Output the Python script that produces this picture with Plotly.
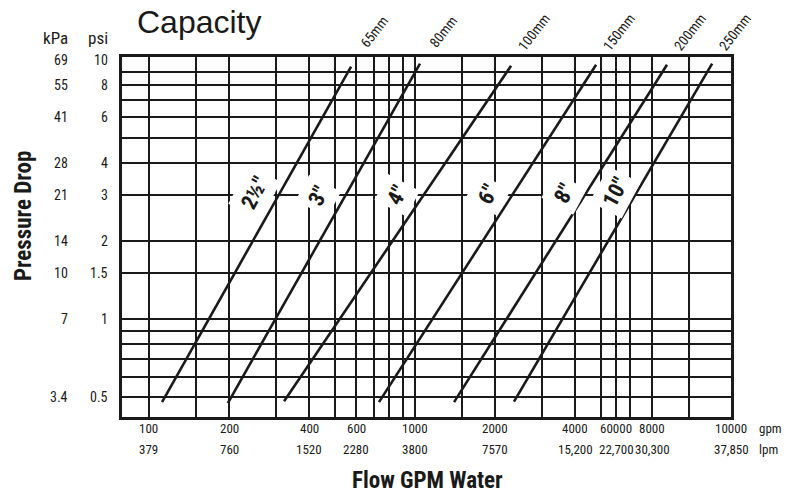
import math
import plotly.graph_objects as go

# ---------------- data ----------------
sizes_in = ['2½"', '3"', '4"', '6"', '8"', '10"']
sizes_mm = ["65mm", "80mm", "100mm", "150mm", "200mm", "250mm"]
# flow (gpm) at the low and high end of each line
flow_low = [112, 198, 322, 732, 1402, 2355]
flow_high = [575, 1044, 2296, 4792, 8851, 13080]
# pressure drop (psi) at the low and high end of each line
psi_low = [0.478, 0.474, 0.482, 0.478, 0.478, 0.48]
psi_high = [9.4, 9.65, 9.47, 9.56, 9.56, 9.65]
# where the size labels sit beside each line
label_flow = [250, 431, 855, 1879, 3631, 5650]
label_psi = [3.07, 2.98, 3.0, 3.02, 3.05, 3.07]

x_grid = [100, 150, 200, 300, 400, 500, 600, 700, 800, 900, 1000, 1500,
          2000, 3000, 4000, 5000, 5700, 6400, 7800, 10700]
y_grid = [0.5, 0.6, 0.7, 0.8, 0.9, 1, 1.5, 2, 3, 4, 5, 6, 7, 8, 9]

gpm_tick_vals = [100, 200, 400, 600, 1000, 2000, 4000, 5700, 7800, 15400]
gpm_tick_text = ["100", "200", "400", "600", "1000", "2000", "4000", "60000", "8000", "10000"]
lpm_tick_text = ["379", "760", "1520", "2280", "3800", "7570", "15,200", "22,700", "30,300", "37,850"]

psi_ticks = [10, 8, 6, 4, 3, 2, 1.5, 1, 0.5]
kpa_ticks = ["69", "55", "41", "28", "21", "14", "10", "7", "3.4"]

X_RANGE = [79.2, 15400]
Y_RANGE = [0.419, 10.24]

COND = "Roboto Condensed, Roboto, sans-serif"
REG = "Liberation Sans, Arial, Helvetica, sans-serif"
INK = "#1a1a1a"

fig = go.Figure()
for i in range(len(sizes_in)):
    fig.add_trace(go.Scatter(
        x=[flow_low[i], flow_high[i]], y=[psi_low[i], psi_high[i]],
        mode="lines", line=dict(color=INK, width=2.6),
        showlegend=False, hoverinfo="skip"))

ann = []
for i in range(len(sizes_in)):
    ann.append(dict(x=math.log10(label_flow[i]), y=math.log10(label_psi[i]),
                    xref="x", yref="y", xanchor="center", yanchor="middle",
                    text="<b>%s</b>" % sizes_in[i],
                    showarrow=False, textangle=-62,
                    font=dict(family=COND, size=22, color=INK),
                    bgcolor="white", borderpad=5))
    ann.append(dict(x=math.log10(flow_high[i]), y=1, xref="x", yref="paper",
                    xanchor="center", yanchor="middle",
                    xshift=23, yshift=25, text=sizes_mm[i], showarrow=False,
                    textangle=-52, font=dict(family=COND, size=14, color=INK)))

for v, t, l in zip(gpm_tick_vals, gpm_tick_text, lpm_tick_text):
    ann.append(dict(x=math.log10(v), y=0, xref="x", yref="paper",
                    xanchor="center", yanchor="middle",
                    yshift=-11, text=t, showarrow=False,
                    font=dict(family=COND, size=13, color=INK)))
    ann.append(dict(x=math.log10(v), y=0, xref="x", yref="paper",
                    xanchor="center", yanchor="middle",
                    yshift=-32, text=l, showarrow=False,
                    font=dict(family=COND, size=13, color=INK)))
ann.append(dict(x=1, y=0, xref="paper", yref="paper", xanchor="left", yanchor="middle",
                xshift=26, yshift=-11, text="gpm", showarrow=False,
                font=dict(family=COND, size=13, color=INK)))
ann.append(dict(x=1, y=0, xref="paper", yref="paper", xanchor="left", yanchor="middle",
                xshift=26, yshift=-32, text="lpm", showarrow=False,
                font=dict(family=COND, size=13, color=INK)))

for p, k in zip(psi_ticks, kpa_ticks):
    ann.append(dict(x=0, y=math.log10(p), xref="paper", yref="y", xanchor="right",
                    yanchor="middle", xshift=-12, text=str(p), showarrow=False,
                    font=dict(family=COND, size=14, color=INK)))
    ann.append(dict(x=0, y=math.log10(p), xref="paper", yref="y", xanchor="right",
                    yanchor="middle", xshift=-52, text=k, showarrow=False,
                    font=dict(family=COND, size=14, color=INK)))
ann.append(dict(x=0, y=1, xref="paper", yref="paper", xanchor="right", yanchor="middle",
                xshift=-12, yshift=19, text="psi", showarrow=False,
                font=dict(family=COND, size=17, color=INK)))
ann.append(dict(x=0, y=1, xref="paper", yref="paper", xanchor="right", yanchor="middle",
                xshift=-52, yshift=19, text="kPa", showarrow=False,
                font=dict(family=COND, size=17, color=INK)))
ann.append(dict(x=0.128, y=1, xref="paper", yref="paper", xanchor="center", yanchor="middle",
                yshift=35, text="Capacity", showarrow=False,
                font=dict(family=REG, size=32, color=INK)))
ann.append(dict(x=0, y=0.558, xref="paper", yref="paper", xanchor="center", yanchor="middle",
                xshift=-99, text="<b>Pressure Drop</b>", textangle=-90, showarrow=False,
                font=dict(family=COND, size=23, color=INK)))
ann.append(dict(x=0.502, y=0, xref="paper", yref="paper", xanchor="center", yanchor="middle",
                yshift=-63, text="<b>Flow GPM Water</b>", showarrow=False,
                font=dict(family=COND, size=23, color=INK)))

fig.update_layout(
    width=791, height=493,
    margin=dict(l=122, r=60, t=57, b=76),
    paper_bgcolor="white", plot_bgcolor="white",
    annotations=ann,
    xaxis=dict(type="log", range=[math.log10(X_RANGE[0]), math.log10(X_RANGE[1])],
               tickmode="array", tickvals=x_grid, showticklabels=False, ticks="",
               showgrid=True, gridcolor=INK, gridwidth=2.3,
               showline=True, linecolor=INK, linewidth=3, mirror=True,
               zeroline=False),
    yaxis=dict(type="log", range=[math.log10(Y_RANGE[0]), math.log10(Y_RANGE[1])],
               tickmode="array", tickvals=y_grid, showticklabels=False, ticks="",
               showgrid=True, gridcolor=INK, gridwidth=2.3,
               showline=True, linecolor=INK, linewidth=3, mirror=True,
               zeroline=False),
)

fig.write_html("out.html", config={"displayModeBar": False},
               post_script="document.body.style.margin='0';")
